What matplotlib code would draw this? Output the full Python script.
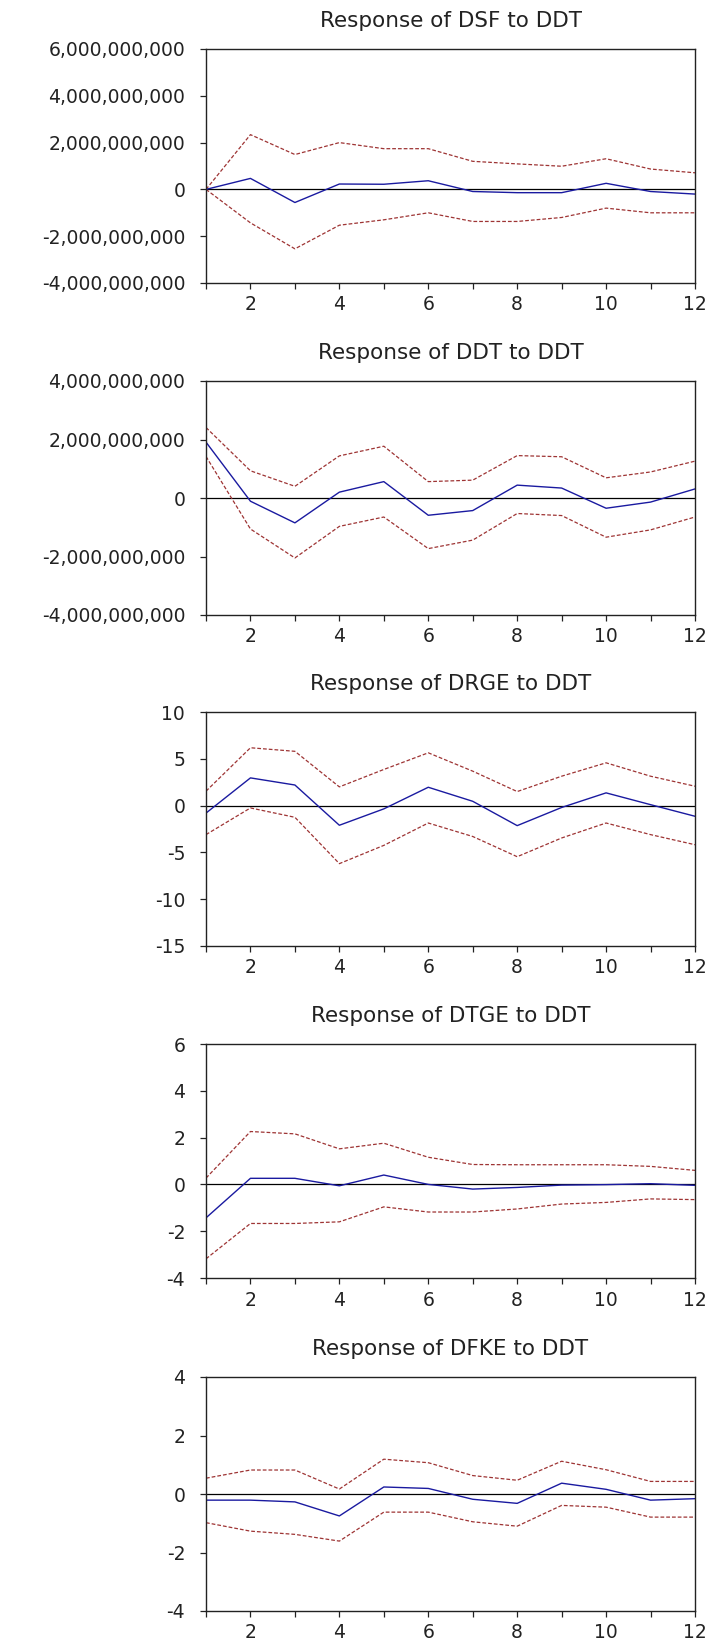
import numpy as np
import matplotlib.pyplot as plt

# periods
periods = np.arange(1, 13)

titles = ['Response of DSF to DDT', 'Response of DDT to DDT',
          'Response of DRGE to DDT', 'Response of DTGE to DDT',
          'Response of DFKE to DDT']

# DSF
dsf_resp = [0, 0.47e9, -0.56e9, 0.23e9, 0.22e9, 0.37e9, -0.09e9, -0.14e9, -0.14e9, 0.26e9, -0.09e9, -0.2e9]
dsf_up = [0, 2.34e9, 1.49e9, 2.0e9, 1.74e9, 1.74e9, 1.2e9, 1.09e9, 0.99e9, 1.31e9, 0.87e9, 0.71e9]
dsf_lo = [0, -1.43e9, -2.54e9, -1.53e9, -1.3e9, -1.0e9, -1.37e9, -1.37e9, -1.2e9, -0.8e9, -1.0e9, -1.0e9]

# DDT
ddt_resp = [1.91e9, -0.11e9, -0.85e9, 0.2e9, 0.56e9, -0.59e9, -0.43e9, 0.44e9, 0.34e9, -0.35e9, -0.14e9, 0.31e9]
ddt_up = [2.41e9, 0.93e9, 0.4e9, 1.44e9, 1.77e9, 0.56e9, 0.61e9, 1.45e9, 1.41e9, 0.69e9, 0.89e9, 1.26e9]
ddt_lo = [1.42e9, -1.06e9, -2.05e9, -0.97e9, -0.65e9, -1.73e9, -1.44e9, -0.53e9, -0.6e9, -1.34e9, -1.09e9, -0.65e9]

# DRGE
drge_resp = [-0.8, 2.96, 2.2, -2.1, -0.35, 1.96, 0.46, -2.14, -0.2, 1.36, 0.1, -1.14]
drge_up = [1.54, 6.18, 5.8, 2.0, 3.86, 5.64, 3.68, 1.5, 3.14, 4.57, 3.14, 2.07]
drge_lo = [-3.1, -0.25, -1.25, -6.2, -4.25, -1.86, -3.3, -5.46, -3.46, -1.86, -3.1, -4.18]

# DTGE
dtge_resp = [-1.43, 0.26, 0.26, -0.06, 0.4, 0.0, -0.2, -0.13, -0.03, -0.01, 0.03, -0.04]
dtge_up = [0.27, 2.26, 2.16, 1.52, 1.76, 1.16, 0.85, 0.84, 0.84, 0.84, 0.77, 0.6]
dtge_lo = [-3.18, -1.67, -1.67, -1.6, -0.96, -1.18, -1.18, -1.05, -0.84, -0.77, -0.62, -0.65]

# DFKE
dfke_resp = [-0.21, -0.21, -0.27, -0.75, 0.24, 0.19, -0.18, -0.32, 0.37, 0.16, -0.21, -0.16]
dfke_up = [0.54, 0.82, 0.82, 0.17, 1.19, 1.07, 0.63, 0.47, 1.12, 0.83, 0.43, 0.43]
dfke_lo = [-0.98, -1.27, -1.38, -1.61, -0.62, -0.62, -0.95, -1.1, -0.39, -0.45, -0.79, -0.79]

series = [(dsf_resp, dsf_up, dsf_lo), (ddt_resp, ddt_up, ddt_lo),
          (drge_resp, drge_up, drge_lo), (dtge_resp, dtge_up, dtge_lo),
          (dfke_resp, dfke_up, dfke_lo)]

yticks = [np.arange(-4e9, 6.1e9, 2e9), np.arange(-4e9, 4.1e9, 2e9),
          np.arange(-15, 11, 5), np.arange(-4, 7, 2), np.arange(-4, 5, 2)]

W, H = 710, 1643
fig = plt.figure(figsize=(W / 100, H / 100), dpi=100)
plt.rcParams['font.family'] = ['DejaVu Sans']

tops = [49, 381, 712, 1044, 1377]
ax_h = 234
left, right = 206, 695

for i in range(5):
    top = tops[i]
    ax = fig.add_axes([left / W, 1 - (top + ax_h) / H, (right - left) / W, ax_h / H])
    resp, up, lo = series[i]
    ax.plot(periods, up, color='#9e3434', lw=0.9, dashes=(3, 1.6))
    ax.plot(periods, lo, color='#9e3434', lw=0.9, dashes=(3, 1.6))
    ax.plot(periods, resp, color='#1a1aa0', lw=1.0)
    ax.axhline(0, color='black', lw=0.9, zorder=1)

    ax.set_xlim(1, 12)
    yt = yticks[i]
    ax.set_ylim(yt[0], yt[-1])
    ax.set_yticks(yt)
    if i < 2:
        ax.set_yticklabels(['{:,.0f}'.format(v) for v in yt])
    else:
        ax.set_yticklabels(['{:.0f}'.format(v) for v in yt])
    ax.set_xticks(periods)
    ax.set_xticklabels([str(p) if p % 2 == 0 else '' for p in periods])

    ax.tick_params(axis='x', direction='out', length=4, width=0.9, pad=5,
                   labelsize=13.5, colors='#222222')
    ax.tick_params(axis='y', direction='out', length=4, width=0.9, pad=11,
                   labelsize=13.5, colors='#222222')
    for s in ax.spines.values():
        s.set_linewidth(1.0)
        s.set_color('#222222')
    ax.set_title(titles[i], fontsize=15.5, pad=16, color='#222222')

fig.savefig('out.png', dpi=100)
